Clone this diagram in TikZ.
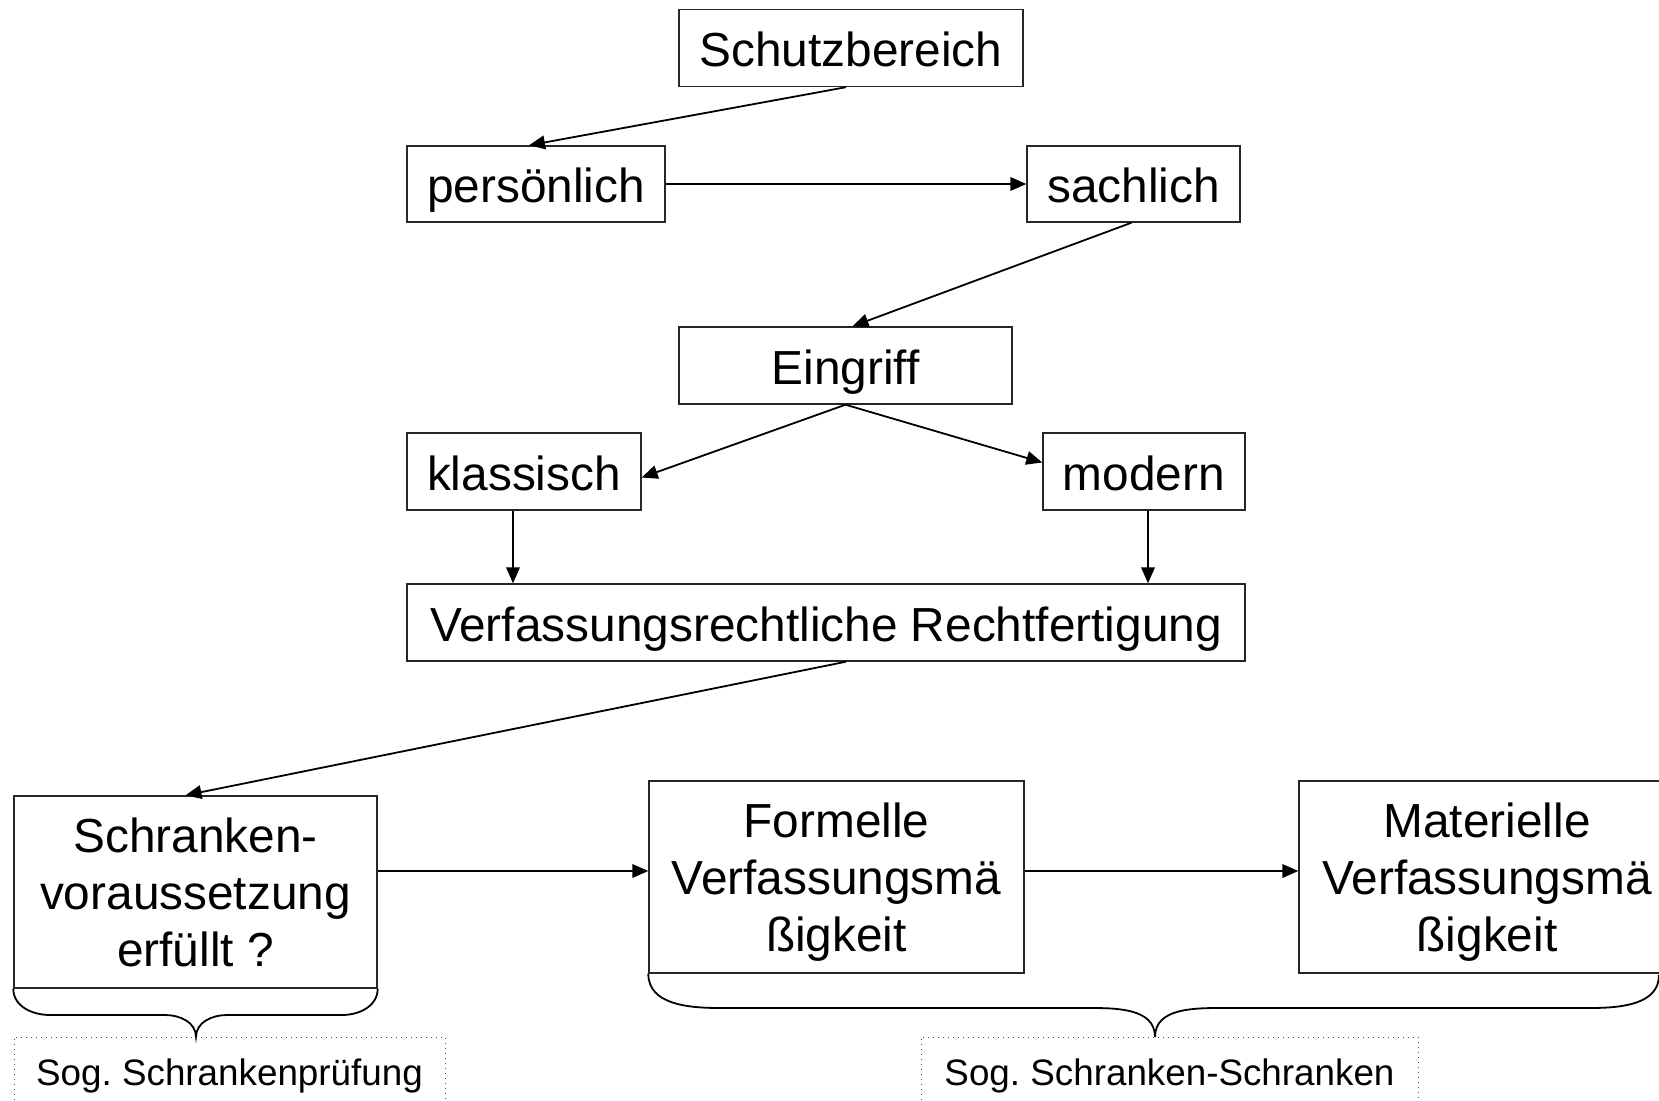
\documentclass[tikz,border=0pt]{standalone}
\usepackage{fontspec}
\setmainfont{Liberation Sans}
\usetikzlibrary{arrows.meta}
\begin{document}
\frenchspacing
\begin{tikzpicture}[x=0.5pt,y=-0.5pt,
  box/.style={draw=black!85,line width=0.7pt,inner sep=0pt,align=center,
    font=\fontsize{23.9pt}{28.5pt}\selectfont},
  one/.style={box,text height=19pt,text depth=0pt},
  multi/.style={box,text depth=0pt},
  arr/.style={line width=0.9pt,-{Triangle[length=8pt,width=6.8pt]}},
  brc/.style={line width=0.9pt},
  dotbox/.style={draw=black!70,line width=0.5pt,dotted},
  lbl/.style={inner sep=0pt,font=\fontsize{18.4pt}{22pt}\selectfont,text height=13pt,text depth=0pt}]
\useasboundingbox (0,0) rectangle (1659,1101);
\fill[white] (0,0) rectangle (1659,1101);

\node[one,minimum width=172pt,minimum height=38.5pt] (schutz) at (851,48) {Schutzbereich};
\node[one,minimum width=129pt,minimum height=38pt] (pers) at (536,184) {persönlich};
\node[one,minimum width=106.5pt,minimum height=38pt] (sach) at (1133.5,184) {sachlich};
\node[one,minimum width=166.5pt,minimum height=38.5pt] (eing) at (845.5,365.5) {Eingriff};
\node[one,minimum width=117pt,minimum height=38.5pt] (klass) at (524,471.5) {klassisch};
\node[one,minimum width=101pt,minimum height=38.5pt] (modern) at (1144,471.5) {modern};
\node[one,minimum width=419pt,minimum height=38.5pt] (verf) at (826,622.5) {Verfassungsrechtliche Rechtfertigung};
\node[multi,minimum width=181.5pt,minimum height=96pt] (schr) at (195.5,892) {Schranken-\\voraussetzung\\erfüllt ?};
\node[multi,minimum width=187.5pt,minimum height=96pt] (form) at (836.5,877) {Formelle\\Verfassungsmä\\ßigkeit};
\node[multi,minimum width=188pt,minimum height=96pt] (mat) at (1487,877) {Materielle\\Verfassungsmä\\ßigkeit};

\draw[arr] ([xshift=-2.5pt]schutz.south) -- ([xshift=-3.5pt]pers.north);
\draw[arr] (pers.east) -- (sach.west);
\draw[arr] ([xshift=-1pt]sach.south) -- ([xshift=3.5pt]eing.north);
\draw[arr] (eing.south) -- ([yshift=-3pt]klass.east);
\draw[arr] (eing.south) -- ([yshift=4.5pt]modern.west);
\draw[arr] ([xshift=-5.5pt]klass.south) -- ([xshift=-5.5pt]klass.south |- verf.north);
\draw[arr] ([xshift=2pt]modern.south) -- ([xshift=2pt]modern.south |- verf.north);
\draw[arr] ([xshift=10pt]verf.south) -- ([xshift=-5pt]schr.north);
\draw[arr] ([yshift=10.5pt]schr.east) -- ([yshift=10.5pt]schr.east -| form.west);
\draw[arr] ([yshift=3pt]form.east) -- ([yshift=3pt]form.east -| mat.west);

% braces
\coordinate (tipA) at (196,1037);
\coordinate (tipB) at (1155,1037);
\draw[brc] (schr.south west) to[out=-90,in=180] (50,1015) -- (165,1015)
  to[out=0,in=90] (tipA) to[out=90,in=180] (227,1015) -- (342,1015)
  to[out=0,in=-90] (schr.south east);
\draw[brc] (form.south west) to[out=-90,in=180] (720,1008) -- (1085,1008)
  to[out=0,in=90] (tipB) to[out=90,in=180] (1225,1008) -- (1590,1008)
  to[out=0,in=-90] (1659,975);

% dotted label boxes
\draw[dotbox] (14,1120) -- (14,1037) -- (445,1037) -- (445,1120);
\draw[dotbox] (921,1120) -- (921,1037) -- (1418,1037) -- (1418,1120);
\node[lbl] (sogA) at (229.5,1072) {Sog. Schrankenprüfung};
\node[lbl] (sogB) at (1169.5,1072) {Sog. Schranken-Schranken};
\end{tikzpicture}
\end{document}
